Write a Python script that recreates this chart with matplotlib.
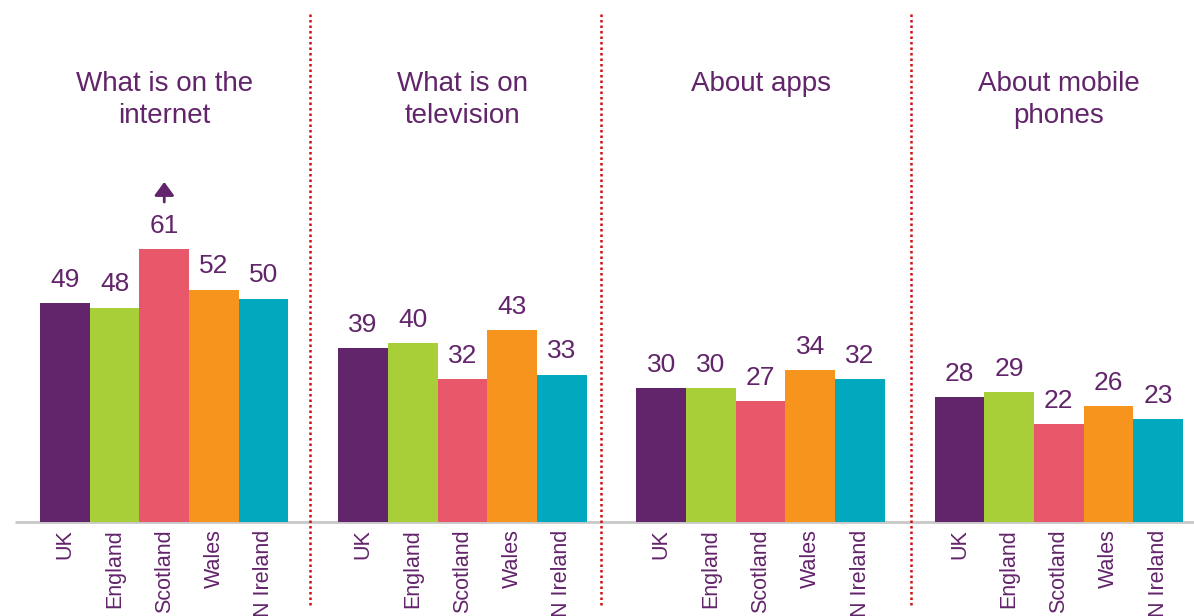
import matplotlib.pyplot as plt

plt.rcParams['font.family'] = ['Liberation Sans', 'DejaVu Sans']

topics = ['What is on the\ninternet', 'What is on\ntelevision', 'About apps', 'About mobile\nphones']
nations = ['UK', 'England', 'Scotland', 'Wales', 'N Ireland']
internet = [49, 48, 61, 52, 50]
television = [39, 40, 32, 43, 33]
apps = [30, 30, 27, 34, 32]
phones = [28, 29, 22, 26, 23]
values = [internet, television, apps, phones]
# marks a significant rise (group, bar)
arrows_up = [(0, 2)]

colors = ['#62246a', '#a9cf38', '#e8586a', '#f7941d', '#00a9bd']
text_col = '#62246a'
dividers = [4.93, 10.79, 17.03]

fig = plt.figure(figsize=(11.94, 6.16), dpi=100)
ax = fig.add_axes([0, 0, 1, 1])
ax.set_xlim(-1.305, 22.72)
ax.set_ylim(-21.0, 116.8)
ax.axis('off')

step = 6
for g, vals in enumerate(values):
    xs = [g * step + i for i in range(len(vals))]
    ax.bar(xs, vals, width=1.0, color=colors, zorder=2)
    for x, v in zip(xs, vals):
        ax.text(x, v + 5.2, str(v), ha='center', va='center',
                fontsize=19, color=text_col)
    for x, name in zip(xs, nations):
        ax.text(x, -1.6, name, rotation=90, ha='center', va='top',
                fontsize=15.5, color=text_col)
    centre = g * step + 2
    ax.text(centre, 100.9, topics[g], ha='center', va='top',
            fontsize=20, color=text_col, linespacing=1.28)

for g, i in arrows_up:
    v = values[g][i]
    x = g * step + i
    ax.annotate('', xy=(x, v + 15.1), xytext=(x, v + 10.6),
                arrowprops=dict(arrowstyle='-|>,head_width=0.33,head_length=0.45',
                                color=text_col, lw=2,
                                mutation_scale=18, shrinkA=0, shrinkB=0))

# baseline
ax.plot([-1.0, 22.72], [0, 0], color='#c8c8c8', lw=2, zorder=1,
        solid_capstyle='butt')

for d in dividers:
    ax.plot([d, d], [-18.6, 114.1], color='#d01010', lw=1.8,
            linestyle=(0, (1, 1.2)), zorder=1)

fig.savefig('out.png', dpi=100)
